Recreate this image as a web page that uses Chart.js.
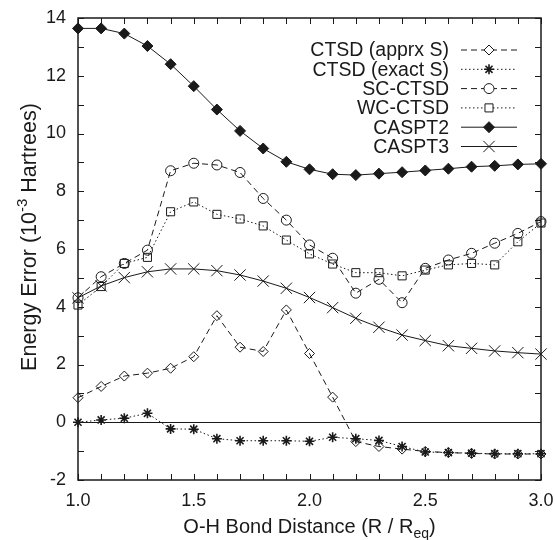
<!DOCTYPE html>
<html>
<head>
<meta charset="utf-8">
<script src="https://cdn.jsdelivr.net/npm/chart.js@4"></script>
<style>
  body { margin: 0; background: #fff; }
  #wrap { width: 555px; height: 540px; position: relative; }
</style>
</head>
<body>
<div id="wrap"><canvas id="grafico"></canvas></div>
<script>
// distancias O-H (R / Req)
const distancias = [1.0, 1.1, 1.2, 1.3, 1.4, 1.5, 1.6, 1.7, 1.8, 1.9, 2.0,
                    2.1, 2.2, 2.3, 2.4, 2.5, 2.6, 2.7, 2.8, 2.9, 3.0];

// erros de energia (10^-3 Hartrees)
const ctsdAprox = [0.85, 1.24, 1.6, 1.7, 1.87, 2.27, 3.69, 2.6, 2.45, 3.89, 2.38,
                   0.87, -0.67, -0.84, -0.93, -1.01, -1.05, -1.08, -1.1, -1.1, -1.1];
const ctsdExato = [0.0, 0.08, 0.14, 0.31, -0.23, -0.24, -0.57, -0.64, -0.64, -0.64, -0.66,
                   -0.52, -0.57, -0.63, -0.84, -1.03, -1.05, -1.07, -1.09, -1.09, -1.09];
const scCtsd = [4.31, 5.04, 5.5, 5.96, 8.71, 8.97, 8.91, 8.65, 7.75, 7.0, 6.14,
                5.68, 4.47, 4.95, 4.14, 5.33, 5.62, 5.85, 6.2, 6.54, 6.95];
const wcCtsd = [4.06, 4.7, 5.5, 5.71, 7.29, 7.63, 7.2, 7.04, 6.8, 6.31, 5.83,
                5.48, 5.18, 5.18, 5.07, 5.27, 5.45, 5.5, 5.45, 6.25, 6.9];
const caspt2 = [13.64, 13.64, 13.46, 13.03, 12.4, 11.64, 10.83, 10.09, 9.48, 9.02, 8.76,
                8.59, 8.56, 8.61, 8.66, 8.72, 8.78, 8.85, 8.88, 8.93, 8.95];
const caspt3 = [4.31, 4.72, 5.01, 5.21, 5.31, 5.31, 5.25, 5.1, 4.89, 4.64, 4.32,
                3.97, 3.6, 3.29, 3.02, 2.83, 2.65, 2.56, 2.47, 2.41, 2.36];

const xTicks = [1.0, 1.5, 2.0, 2.5, 3.0];
const yTicks = [-2, 0, 2, 4, 6, 8, 10, 12, 14];

const cor = '#1a1a1a';
const fonte = '"Liberation Sans", Arial, sans-serif';

function pontos(valores) {
    return distancias.map((x, i) => ({ x: x, y: valores[i] }));
}

function serie(label, valores, estilo, raio, tracejado, cheio, espessura) {
    return {
        label: label,
        data: pontos(valores),
        borderColor: cor,
        borderWidth: 1,
        borderDash: tracejado,
        backgroundColor: cor,
        pointStyle: estilo,
        pointRadius: raio,
        pointBorderColor: cor,
        pointBorderWidth: espessura || 1,
        pointBackgroundColor: cheio ? cor : 'rgba(0,0,0,0)',
        clip: false,
        tension: 0
    };
}

const datasets = [
    serie('CTSD (apprx S)', ctsdAprox, 'rectRot', 5, [6, 4], false),
    serie('CTSD (exact S)', ctsdExato, 'star', 5, [1.5, 2.5], false, 1.6),
    serie('SC-CTSD', scCtsd, 'circle', 5, [6, 4], false),
    serie('WC-CTSD', wcCtsd, 'rect', 5.7, [1.5, 2.5], false),
    serie('CASPT2', caspt2, 'rectRot', 5.5, [], true),
    serie('CASPT3', caspt3, 'crossRot', 8, [], false)
];

// texto com sub/sobrescrito centrado em (cx, cy)
function textoMisto(ctx, partes, cx, cy) {
    let total = 0;
    partes.forEach(p => { ctx.font = p.tam + 'px ' + fonte; p.w = ctx.measureText(p.t).width; total += p.w; });
    let x = cx - total / 2;
    partes.forEach(p => {
        ctx.font = p.tam + 'px ' + fonte;
        ctx.fillText(p.t, x, cy + (p.dy || 0));
        x += p.w;
    });
}

// moldura, ticks para dentro, linha do zero, legenda e titulos dos eixos
const moldura = {
    id: 'moldura',
    afterDraw(chart) {
        const ctx = chart.ctx;
        const a = chart.chartArea;
        const sx = chart.scales.x, sy = chart.scales.y;
        ctx.save();
        ctx.strokeStyle = cor;
        ctx.lineWidth = 1;
        // linha do zero
        const y0 = Math.round(sy.getPixelForValue(0)) + 0.5;
        ctx.beginPath();
        ctx.moveTo(a.left, y0);
        ctx.lineTo(a.right, y0);
        ctx.stroke();
        // ticks
        const tam = 6;
        ctx.beginPath();
        for (let i = 0; i <= 20; i++) {
            const px = Math.round(sx.getPixelForValue(1 + i * 0.1)) + 0.5;
            ctx.moveTo(px, a.bottom); ctx.lineTo(px, a.bottom - tam);
            ctx.moveTo(px, a.top); ctx.lineTo(px, a.top + tam);
        }
        for (let v = -2; v <= 14; v++) {
            const py = Math.round(sy.getPixelForValue(v)) + 0.5;
            ctx.moveTo(a.left, py); ctx.lineTo(a.left + tam, py);
            ctx.moveTo(a.right, py); ctx.lineTo(a.right - tam, py);
        }
        ctx.stroke();
        ctx.lineWidth = 1.5;
        ctx.strokeRect(a.left, a.top, a.right - a.left, a.bottom - a.top);

        // legenda
        ctx.font = '19.5px ' + fonte;
        ctx.textAlign = 'right';
        ctx.textBaseline = 'middle';
        const x1 = 461, x2 = 517, xm = 489;
        chart.data.datasets.forEach((ds, i) => {
            const y = 50 + i * 19.3;
            ctx.fillStyle = cor;
            ctx.fillText(ds.label, 449, y + 1);
            ctx.lineWidth = 1;
            ctx.setLineDash(ds.borderDash);
            ctx.beginPath();
            ctx.moveTo(x1, y); ctx.lineTo(x2, y);
            ctx.stroke();
            ctx.setLineDash([]);
            // fundo branco para o marcador nao ser cruzado pela linha
            ctx.fillStyle = ds.pointBackgroundColor === cor ? cor : '#fff';
            ctx.lineWidth = ds.pointBorderWidth;
            Chart.helpers.drawPoint(ctx, {
                pointStyle: ds.pointStyle, radius: ds.pointRadius,
                borderWidth: ds.pointBorderWidth, rotation: 0
            }, xm, y);
        });

        // titulo eixo x
        ctx.fillStyle = cor;
        ctx.textBaseline = 'alphabetic';
        ctx.textAlign = 'left';
        textoMisto(ctx, [
            { t: 'O-H Bond Distance (R / R', tam: 20 },
            { t: 'eq', tam: 14, dy: 5 },
            { t: ')', tam: 20 }
        ], (a.left + a.right) / 2, 533);

        // titulo eixo y
        ctx.translate(36, 237);
        ctx.rotate(-Math.PI / 2);
        textoMisto(ctx, [
            { t: 'Energy Error (10', tam: 21.5 },
            { t: '-3', tam: 15, dy: -9 },
            { t: ' Hartrees)', tam: 21.5 }
        ], 0, 0);
        ctx.restore();
    }
};

new Chart(document.getElementById('grafico'), {
    type: 'line',
    data: { datasets: datasets },
    options: {
        responsive: true,
        maintainAspectRatio: false,
        animation: false,
        layout: { padding: { top: 18, right: 14, left: 0, bottom: 0 } },
        plugins: { legend: { display: false }, tooltip: { enabled: false } },
        scales: {
            x: {
                type: 'linear',
                min: 1, max: 3,
                grid: { display: false, drawTicks: false },
                border: { display: false },
                afterFit(s) { s.height = 60; s.paddingLeft = 0; s.paddingRight = 0; },
                afterBuildTicks(s) { s.ticks = xTicks.map(v => ({ value: v })); },
                ticks: {
                    padding: 10,
                    color: cor,
                    font: { family: fonte, size: 18 },
                    callback: v => v.toFixed(1)
                }
            },
            y: {
                min: -2, max: 14,
                grid: { display: false, drawTicks: false },
                border: { display: false },
                afterFit(s) { s.width = 78; s.paddingTop = 0; s.paddingBottom = 0; },
                afterBuildTicks(s) { s.ticks = yTicks.map(v => ({ value: v })); },
                ticks: {
                    padding: 12,
                    color: cor,
                    font: { family: fonte, size: 18 }
                }
            }
        }
    },
    plugins: [moldura]
});
</script>
</body>
</html>
